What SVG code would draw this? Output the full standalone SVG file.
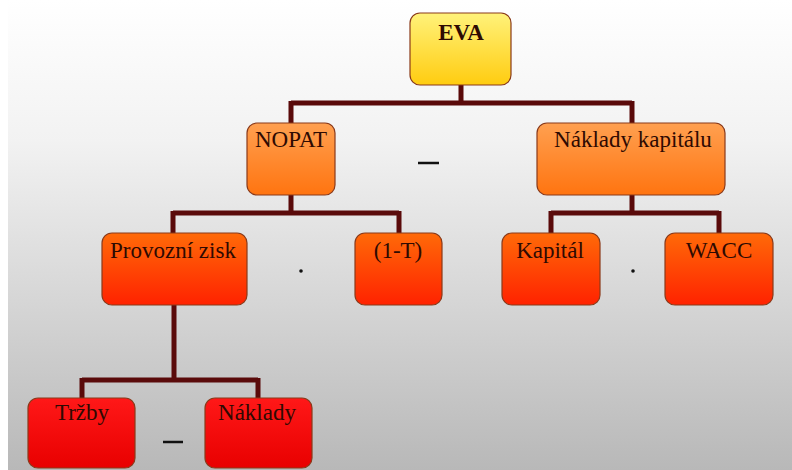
<svg xmlns="http://www.w3.org/2000/svg" width="792" height="470" viewBox="0 0 792 470">
<defs>
<linearGradient id="bg" x1="0" y1="0" x2="0" y2="1">
<stop offset="0" stop-color="#ffffff"/>
<stop offset="0.3" stop-color="#f2f2f2"/>
<stop offset="1" stop-color="#b8b8b8"/>
</linearGradient>
<linearGradient id="gY" x1="0" y1="0" x2="0" y2="1">
<stop offset="0" stop-color="#fff27a"/>
<stop offset="1" stop-color="#ffcc10"/>
</linearGradient>
<linearGradient id="gO" x1="0" y1="0" x2="0" y2="1">
<stop offset="0" stop-color="#ffa050"/>
<stop offset="1" stop-color="#ff7410"/>
</linearGradient>
<linearGradient id="gR" x1="0" y1="0" x2="0" y2="1">
<stop offset="0" stop-color="#ff6a08"/>
<stop offset="1" stop-color="#ff2200"/>
</linearGradient>
<linearGradient id="gD" x1="0" y1="0" x2="0" y2="1">
<stop offset="0" stop-color="#ff1818"/>
<stop offset="1" stop-color="#e80000"/>
</linearGradient>
</defs>
<style>
.box{stroke:#8a3a1a;stroke-width:1.2}
.t{font-family:"Liberation Serif","Times New Roman",serif;font-size:23px;fill:#2e0a02;text-anchor:middle}
.c{fill:none;stroke:#5a0a0a;stroke-width:5}
.op{stroke:#111;stroke-width:2.5}
</style>
<rect x="0" y="0" width="792" height="470" fill="url(#bg)"/>
<rect x="0" y="0" width="8" height="470" fill="#ffffff"/>
<g id="connectors">
<path class="c" d="M461 85 V103 M291 103 H632 M291 101 V123 M632 101 V123"/>
<path class="c" d="M291 195 V213 M173 213 H399 M173 211 V233 M399 211 V233"/>
<path class="c" d="M632 195 V213 M551 213 H719 M551 211 V233 M719 211 V233"/>
<path class="c" d="M174 305 V380 M82 380 H258 M82 378 V398 M258 378 V398"/>
</g>
<g id="eva"><rect class="box" x="410" y="13" width="101" height="72" rx="10" fill="url(#gY)"/><text class="t" x="461" y="40" font-weight="bold" fill="#111">EVA</text></g>
<g id="nopat"><rect class="box" x="247" y="123" width="88" height="72" rx="10" fill="url(#gO)"/><text class="t" x="291" y="147">NOPAT</text></g>
<g id="naklady-kapitalu"><rect class="box" x="537" y="123" width="188" height="72" rx="10" fill="url(#gO)"/><text class="t" x="633" y="147" font-size="24">Náklady kapitálu</text></g>
<g id="provozni-zisk"><rect class="box" x="102" y="233" width="145" height="72" rx="10" fill="url(#gR)"/><text class="t" x="173" y="258" font-size="24">Provozní zisk</text></g>
<g id="one-minus-t"><rect class="box" x="355" y="233" width="87" height="72" rx="10" fill="url(#gR)"/><text class="t" x="398" y="258">(1-T)</text></g>
<g id="kapital"><rect class="box" x="502" y="233" width="98" height="72" rx="10" fill="url(#gR)"/><text class="t" x="550" y="258">Kapitál</text></g>
<g id="wacc"><rect class="box" x="665" y="233" width="108" height="72" rx="10" fill="url(#gR)"/><text class="t" x="719" y="258">WACC</text></g>
<g id="trzby"><rect class="box" x="28" y="398" width="107" height="70" rx="10" fill="url(#gD)"/><text class="t" x="82" y="420">Tržby</text></g>
<g id="naklady"><rect class="box" x="205" y="398" width="107" height="70" rx="10" fill="url(#gD)"/><text class="t" x="257" y="420">Náklady</text></g>
<line class="op" x1="418" y1="163" x2="439" y2="163"/>
<line class="op" x1="163" y1="442" x2="183" y2="442"/>
<circle cx="301" cy="271" r="1.8" fill="#111"/>
<circle cx="633" cy="271" r="1.8" fill="#111"/>
</svg>
